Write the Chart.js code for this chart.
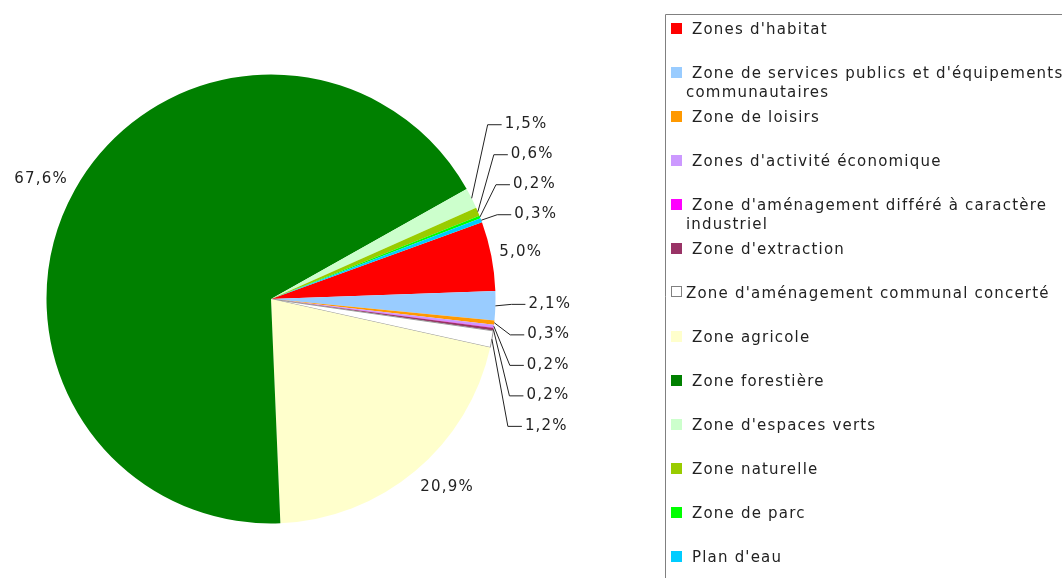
<!DOCTYPE html>
<html>
<head>
<meta charset="utf-8">
<script src="https://cdn.jsdelivr.net/npm/chart.js@4.4.0/dist/chart.umd.min.js"></script>
<style>
  html, body { margin: 0; padding: 0; background: #fff; }
  #wrap { width: 1062px; height: 578px; }
</style>
</head>
<body>
<div id="wrap"><canvas id="pieChart" width="1062" height="578"></canvas></div>
<script>
// Data
const zoneLabels = [
    "Zones d'habitat",
    "Zone de services publics et d'équipements communautaires",
    "Zone de loisirs",
    "Zones d'activité économique",
    "Zone d'aménagement différé à caractère industriel",
    "Zone d'extraction",
    "Zone d'aménagement communal concerté",
    "Zone agricole",
    "Zone forestière",
    "Zone d'espaces verts",
    "Zone naturelle",
    "Zone de parc",
    "Plan d'eau"
];
const zoneShares = [5.0, 2.1, 0.3, 0.2, 0.03, 0.2, 1.2, 20.9, 67.6, 1.5, 0.6, 0.2, 0.3];
const zoneColors = [
    '#FF0000', '#99CCFF', '#FF9900', '#CC99FF', '#FF00FF', '#993366', '#FFFFFF',
    '#FFFFCC', '#008000', '#CCFFCC', '#99CC00', '#00FF00', '#00CCFF'
];

const FONT = '15px "DejaVu Sans", Verdana, sans-serif';
const SPACING = '1.2px';
const TEXT_COLOR = '#222222';

function formatPct(v) {
    return v.toFixed(1).replace('.', ',') + '%';
}

/**
 * Percentage labels, with leader lines for the thin slices
 */
const pieLabels = {
    id: 'pieLabels',
    afterDatasetsDraw(chart) {
        const ctx = chart.ctx;
        const arcs = chart.getDatasetMeta(0).data;
        const values = chart.data.datasets[0].data;
        const upper = [];
        const lower = [];

        ctx.save();
        ctx.font = FONT;
        ctx.letterSpacing = SPACING;
        ctx.fillStyle = TEXT_COLOR;
        ctx.strokeStyle = '#222222';
        ctx.lineWidth = 1;

        arcs.forEach((arc, i) => {
            const v = values[i];
            if (v < 0.1) return;
            const mid = (arc.startAngle + arc.endAngle) / 2;
            const r = arc.outerRadius;
            const cos = Math.cos(mid), sin = Math.sin(mid);
            const text = formatPct(v);

            if (v >= 3) {
                // big slice: label box just outside the rim
                const w = ctx.measureText(text).width;
                const ax = arc.x + cos * (r + 8);
                const ay = arc.y + sin * (r + 8);
                const cx = ax + Math.sign(cos) * w / 2;
                const cy = ay + sin * 13;
                ctx.textAlign = 'center';
                ctx.textBaseline = 'middle';
                ctx.fillText(text, cx, cy);
                return;
            }

            const item = {
                text,
                ex: arc.x + cos * r,
                ey: arc.y + sin * r
            };
            (sin < 0 ? upper : lower).push(item);
        });

        // stack upwards / downwards 30px apart
        upper.sort((a, b) => b.ey - a.ey);
        let prev = Infinity;
        upper.forEach(it => {
            it.ly = Math.min(it.ey - 6, prev - 30);
            prev = it.ly;
        });
        lower.sort((a, b) => a.ey - b.ey);
        prev = -Infinity;
        lower.forEach(it => {
            it.ly = Math.max(it.ey - 2, prev + 30.5);
            prev = it.ly;
        });

        ctx.textAlign = 'left';
        ctx.textBaseline = 'middle';
        upper.concat(lower).forEach(it => {
            const tx = it.ex + 33;
            ctx.beginPath();
            ctx.moveTo(it.ex, it.ey);
            ctx.lineTo(tx - 17, it.ly + 0.5);
            ctx.lineTo(tx - 3, it.ly + 0.5);
            ctx.stroke();
            ctx.fillText(it.text, tx, it.ly);
        });
        ctx.restore();
    }
};

/**
 * Boxed legend on the right, wrapped text
 */
const boxLegend = {
    id: 'boxLegend',
    afterDraw(chart) {
        const ctx = chart.ctx;
        const left = 665;
        const top = 14;
        const maxW = 392;

        ctx.save();
        ctx.strokeStyle = '#808080';
        ctx.lineWidth = 1;
        ctx.beginPath();
        ctx.moveTo(left + 0.5, chart.height + 2);
        ctx.lineTo(left + 0.5, top + 0.5);
        ctx.lineTo(chart.width + 2, top + 0.5);
        ctx.stroke();

        ctx.font = FONT;
        ctx.letterSpacing = SPACING;
        ctx.fillStyle = TEXT_COLOR;
        ctx.textAlign = 'left';
        ctx.textBaseline = 'alphabetic';

        zoneLabels.forEach((label, i) => {
            const base = 34 + 44 * i;
            const color = zoneColors[i];
            ctx.fillStyle = color;
            if (color === '#FFFFFF') {
                ctx.fillRect(672, base - 11, 10, 10);
                ctx.strokeStyle = '#808080';
                ctx.strokeRect(671.5, base - 11.5, 10, 10);
            } else {
                ctx.fillRect(671, base - 11, 11, 11);
            }

            const text = color === '#FFFFFF' ? label : ' ' + label;
            const words = text.split(' ');
            const lines = [];
            let line = '';
            words.forEach((w, k) => {
                const test = k === 0 ? w : line + ' ' + w;
                if (ctx.measureText(test).width > maxW && line.trim()) {
                    lines.push(line);
                    line = w;
                } else {
                    line = test;
                }
            });
            lines.push(line);

            ctx.fillStyle = TEXT_COLOR;
            lines.forEach((ln, k) => {
                ctx.fillText(ln, 686, base + 19 * k);
            });
        });
        ctx.restore();
    }
};

new Chart(document.getElementById('pieChart'), {
    type: 'pie',
    data: {
        labels: zoneLabels,
        datasets: [{
            data: zoneShares,
            backgroundColor: zoneColors,
            borderColor: zoneColors.map(c => c === '#FFFFFF' ? '#9a9a9a' : c),
            borderWidth: zoneColors.map(c => c === '#FFFFFF' ? 1 : 0)
        }]
    },
    options: {
        responsive: false,
        animation: false,
        rotation: 70,
        layout: {
            padding: { left: 46, right: 566, top: 74, bottom: 54 }
        },
        plugins: {
            legend: { display: false },
            tooltip: { enabled: false }
        },
        events: []
    },
    plugins: [pieLabels, boxLegend]
});
</script>
</body>
</html>
